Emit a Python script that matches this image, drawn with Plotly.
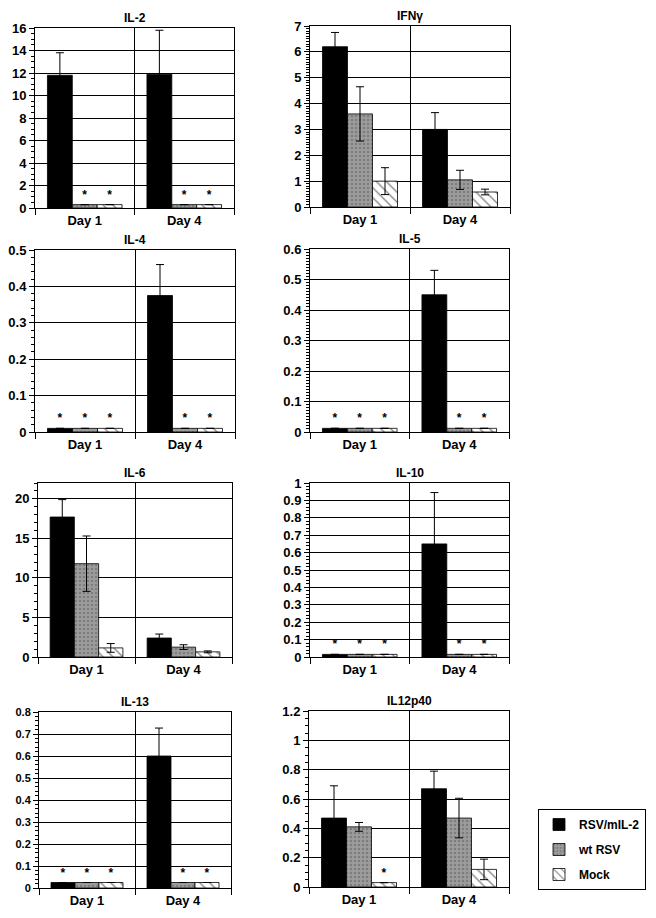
import plotly.graph_objects as go

days = ["Day 1", "Day 4"]
groups = ["RSV/mIL-2", "wt RSV", "Mock"]
panels = ["IL-2", "IFNγ", "IL-4", "IL-5", "IL-6", "IL-10", "IL-13", "IL12p40"]

# means / errors per panel: rows = [RSV/mIL-2, wt RSV, Mock], cols = [Day 1, Day 4]
il2_mean = [[11.8, 11.9], [0.3, 0.3], [0.3, 0.3]]
il2_err = [[2.0, 3.9], [0, 0], [0, 0]]
il2_star = [[0, 0], [1, 1], [1, 1]]

ifng_mean = [[6.2, 3.0], [3.6, 1.05], [1.0, 0.58]]
ifng_err = [[0.55, 0.65], [1.05, 0.37], [0.52, 0.11]]
ifng_star = [[0, 0], [0, 0], [0, 0]]

il4_mean = [[0.01, 0.375], [0.01, 0.01], [0.01, 0.01]]
il4_err = [[0, 0.085], [0, 0], [0, 0]]
il4_star = [[1, 0], [1, 1], [1, 1]]

il5_mean = [[0.012, 0.45], [0.012, 0.012], [0.012, 0.012]]
il5_err = [[0, 0.08], [0, 0], [0, 0]]
il5_star = [[1, 0], [1, 1], [1, 1]]

il6_mean = [[17.7, 2.4], [11.8, 1.25], [1.15, 0.65]]
il6_err = [[2.2, 0.5], [3.5, 0.3], [0.55, 0.12]]
il6_star = [[0, 0], [0, 0], [0, 0]]

il10_mean = [[0.015, 0.65], [0.015, 0.015], [0.015, 0.015]]
il10_err = [[0, 0.295], [0, 0], [0, 0]]
il10_star = [[1, 0], [1, 1], [1, 1]]

il13_mean = [[0.025, 0.6], [0.025, 0.025], [0.025, 0.025]]
il13_err = [[0, 0.127], [0, 0], [0, 0]]
il13_star = [[1, 0], [1, 1], [1, 1]]

il12_mean = [[0.47, 0.67], [0.41, 0.47], [0.03, 0.12]]
il12_err = [[0.22, 0.12], [0.03, 0.135], [0, 0.07]]
il12_star = [[0, 0], [0, 0], [1, 0]]

y_max = [16, 7, 0.5, 0.6, 22, 1, 0.8, 1.2]
y_dtick = [2, 1, 0.1, 0.1, 5, 0.1, 0.1, 0.2]
y_minor = [0.5, 0.1, 0.02, 0.01, 1, 0.02, 0.02, 0.05]

means = [il2_mean, ifng_mean, il4_mean, il5_mean, il6_mean, il10_mean, il13_mean, il12_mean]
errs = [il2_err, ifng_err, il4_err, il5_err, il6_err, il10_err, il13_err, il12_err]
stars = [il2_star, ifng_star, il4_star, il5_star, il6_star, il10_star, il13_star, il12_star]

W, H = 656, 918
# plot-area boxes in pixels (x0, x1, y0, y1)
boxes = [
    (35, 234, 28, 208), (310, 510, 26, 207),
    (35, 235, 250, 432), (310, 509, 249, 432),
    (38, 232, 483, 657), (310, 509, 483, 657),
    (39, 231, 712, 888), (309, 509, 711, 887),
]

styles = [
    dict(color="black", pattern=dict(shape="")),
    dict(color="#959595", pattern=dict(shape=".", bgcolor="#9c9c9c", fgcolor="#5e5e5e",
                                       size=4, solidity=0.3)),
    dict(color="white", pattern=dict(shape="\\", bgcolor="white", fgcolor="black",
                                     size=7, solidity=0.18)),
]

font = "Liberation Sans, Arial, sans-serif"
fig = go.Figure()

for i, name in enumerate(panels):
    sfx = "" if i == 0 else str(i + 1)
    for g in range(3):
        fig.add_trace(go.Bar(
            x=days, y=means[i][g], name=groups[g],
            xaxis="x" + sfx, yaxis="y" + sfx,
            marker=dict(color=styles[g]["color"], pattern=styles[g]["pattern"],
                        line=dict(color="black", width=0.8)),
            error_y=dict(type="data", array=errs[i][g], color="black",
                         thickness=1, width=4, visible=True),
            text=["*" if s else "" for s in stars[i][g]],
            textposition="outside", cliponaxis=False,
            outsidetextfont=dict(size=12, color="#000000", family=font, weight="bold"),
            showlegend=(i == 0), legendgroup=groups[g],
        ))

    x0, x1, y0, y1 = boxes[i]
    fig.update_layout({
        "xaxis" + sfx: dict(
            domain=[x0 / W, x1 / W], anchor="y" + sfx, type="category",
            tickson="boundaries", ticks="outside", ticklen=6, tickcolor="black",
            showgrid=True, gridcolor="black", gridwidth=1, automargin=False,
            showline=True, linecolor="black", linewidth=1, mirror=True,
            tickfont=dict(size=13, color="black", family=font, weight="bold"),
        ),
        "yaxis" + sfx: dict(
            domain=[1 - y1 / H, 1 - y0 / H], anchor="x" + sfx,
            range=[0, y_max[i]], dtick=y_dtick[i], tick0=0, automargin=False,
            ticks="outside", ticklen=5, tickcolor="black",
            minor=dict(dtick=y_minor[i], ticks="outside", ticklen=3, tickcolor="black",
                       showgrid=False),
            showgrid=True, gridcolor="black", gridwidth=1, zeroline=False,
            showline=True, linecolor="black", linewidth=1, mirror=True,
            tickfont=dict(size=11 if i == 6 else 13, color="black", family=font,
                          weight="bold"),
        ),
    })
    fig.add_annotation(
        text=name, xref="x" + sfx + " domain", yref="y" + sfx + " domain",
        x=0.5, y=1, yanchor="bottom", yshift=1, showarrow=False,
        font=dict(size=12, color="black", family=font, weight="bold"),
    )

fig.update_layout(
    width=W, height=H, autosize=False,
    margin=dict(l=0, r=0, t=0, b=0, pad=0, autoexpand=False),
    paper_bgcolor="white", plot_bgcolor="white",
    barmode="group", bargap=0.25, bargroupgap=0,
    font=dict(family=font, color="black"),
    legend=dict(
        x=538 / W, y=1 - 809 / H, xanchor="left", yanchor="top",
        bordercolor="black", borderwidth=1, bgcolor="white",
        font=dict(size=12, color="black", family=font, weight="bold"),
        tracegroupgap=6, itemwidth=30,
    ),
)

# drop the browser's default body margin so the figure sits at the page origin
fig.write_html("out.html", config={"displayModeBar": False},
               post_script="document.body.style.margin='0px';")
